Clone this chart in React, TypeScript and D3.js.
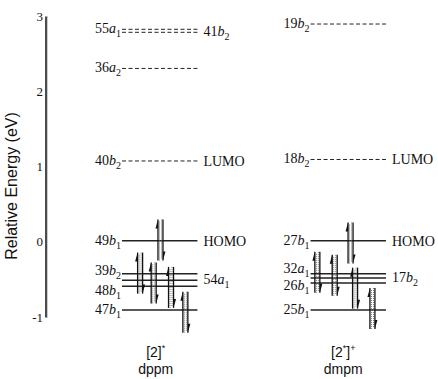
import * as d3 from "d3";

// energy axis
const yTicks = [-1, 0, 1, 2, 3];
const columns = ["dppm", "dmpm"];

// [2]* dppm levels
const dppmNames = ["55a1", "41b2", "36a2", "40b2", "49b1", "39b2", "54a1", "48b1", "47b1"];
const dppmEnergies = [2.83, 2.79, 2.31, 1.08, 0.02, -0.42, -0.505, -0.585, -0.9];
const dppmFilled = [false, false, false, false, true, true, true, true, true];
const dppmSide = ["left", "right", "left", "left", "left", "left", "right", "left", "left"];
const dppmTags = ["", "", "", "LUMO", "HOMO", "", "", "", ""];
const dppmPairPos = [0.51, 0.24, 0.42, 0.65, 0.84];
const dppmPairEnergy = [0.03, -0.41, -0.54, -0.6, -0.93];

// [2*]+ dmpm levels
const dmpmNames = ["19b2", "18b2", "27b1", "32a1", "17b2", "26b1", "25b1"];
const dmpmEnergies = [2.9, 1.1, 0.02, -0.42, -0.475, -0.54, -0.9];
const dmpmFilled = [false, false, true, true, true, true, true];
const dmpmSide = ["left", "left", "left", "left", "right", "left", "left"];
const dmpmTags = ["", "LUMO", "HOMO", "", "", "", ""];
const dmpmPairPos = [0.53, 0.09, 0.32, 0.59, 0.82];
const dmpmPairEnergy = [-0.01, -0.4, -0.44, -0.61, -0.88];

// small vertical nudges for crowded labels (px)
const labelNudge: Record<string, number> = { "39b2": -3, "48b1": 5, "32a1": -5, "26b1": 3 };

const serif = "'Liberation Serif', 'Times New Roman', serif";
const sans = "'Liberation Sans', Arial, sans-serif";

const y = d3.scaleLinear().domain([-1, 3]).range([317.5, 16.5]);
const col = d3.scaleBand().domain(columns).range([122, 386]).paddingInner(0.6).paddingOuter(0);

function OrbitalLabel({ name, x, yy, anchor }: { name: string; x: number; yy: number; anchor: string }) {
  const num = name.slice(0, 2);
  const sym = name[2];
  const sub = name[3];
  return (
    <text x={x} y={yy} textAnchor={anchor} fontFamily={serif} fontSize={14} fill="#111">
      <tspan>{num}</tspan>
      <tspan fontStyle="italic">{sym}</tspan>
      <tspan fontSize={10} dy={4}>{sub}</tspan>
    </text>
  );
}

function Column({ c, names, energies, filled, side, tags, pairPos, pairE }: any) {
  const x0 = col(c)!;
  const x1 = x0 + col.bandwidth();
  const inner = d3.scaleLinear().domain([0, 1]).range([x0, x1]);
  const half = 20.5;
  return (
    <g>
      {names.map((n: string, i: number) => {
        const yy = y(energies[i]);
        const nudge = labelNudge[n] || 0;
        return (
          <g key={n}>
            <line
              x1={x0}
              x2={x1}
              y1={yy}
              y2={yy}
              stroke="#222"
              strokeWidth={filled[i] ? 1.5 : 1}
              strokeDasharray={filled[i] ? undefined : "4,2.5"}
            />
            {side[i] === "left" ? (
              <OrbitalLabel name={n} x={x0 - 1} yy={yy + 4 + nudge} anchor="end" />
            ) : (
              <OrbitalLabel name={n} x={x1 + 6} yy={yy + 4 + nudge} anchor="start" />
            )}
            {tags[i] && (
              <text x={x1 + 6} y={yy + 5} fontFamily={serif} fontSize={14} fill="#111">
                {tags[i]}
              </text>
            )}
          </g>
        );
      })}
      {pairPos.map((p: number, i: number) => {
        const cx = inner(p);
        const cy = y(pairE[i]);
        const top = cy - half;
        const bot = cy + half;
        return (
          <g key={"pair" + i}>
            <line x1={cx - 1} x2={cx - 1} y1={top + 2} y2={bot} stroke="#777" strokeWidth={1} strokeDasharray="1,1" />
            <line x1={cx + 1} x2={cx + 1} y1={top} y2={bot - 2} stroke="#777" strokeWidth={1} strokeDasharray="1,1" />
            <line x1={cx - 2.5} x2={cx - 2.5} y1={top} y2={bot} stroke="#111" strokeWidth={1.3} />
            <polygon points={`${cx - 2.5},${top} ${cx - 5},${top + 9} ${cx - 2.5},${top + 9}`} fill="#111" />
            <line x1={cx + 2.5} x2={cx + 2.5} y1={top} y2={bot} stroke="#111" strokeWidth={1.3} />
            <polygon points={`${cx + 2.5},${bot} ${cx + 5},${bot - 9} ${cx + 2.5},${bot - 9}`} fill="#111" />
          </g>
        );
      })}
    </g>
  );
}

export default function App() {
  const dppmX = col("dppm")! + col.bandwidth() / 2;
  const dmpmX = col("dmpm")! + col.bandwidth() / 2;
  return (
    <svg width={438} height={379} style={{ position: "absolute", left: 0, top: 0, background: "#fff" }}>
      {/* axis */}
      <line x1={46} x2={46} y1={y(3)} y2={y(-1)} stroke="#111" strokeWidth={1.5} />
      <line x1={47.5} x2={47.5} y1={y(3)} y2={y(-1)} stroke="#999" strokeWidth={1} strokeDasharray="1,1" />
      {yTicks.map((t) => (
        <text key={t} x={43} y={y(t) + 4} textAnchor="end" fontFamily={serif} fontSize={13} fill="#111">
          {t}
        </text>
      ))}
      <text
        transform={`translate(17,${186}) rotate(-90)`}
        textAnchor="middle"
        fontFamily={sans}
        fontSize={16}
        fill="#111"
      >
        Relative Energy (eV)
      </text>

      <Column
        c="dppm"
        names={dppmNames}
        energies={dppmEnergies}
        filled={dppmFilled}
        side={dppmSide}
        tags={dppmTags}
        pairPos={dppmPairPos}
        pairE={dppmPairEnergy}
      />
      <Column
        c="dmpm"
        names={dmpmNames}
        energies={dmpmEnergies}
        filled={dmpmFilled}
        side={dmpmSide}
        tags={dmpmTags}
        pairPos={dmpmPairPos}
        pairE={dmpmPairEnergy}
      />

      {/* compound titles */}
      <text x={dppmX - 4} y={357} textAnchor="middle" fontFamily={sans} fontSize={14} fill="#111">
        [2]<tspan fontSize={9} dy={-6}>*</tspan>
      </text>
      <text x={dppmX - 4} y={374} textAnchor="middle" fontFamily={sans} fontSize={14} fill="#111">
        dppm
      </text>
      <text x={dmpmX - 5} y={357} textAnchor="middle" fontFamily={sans} fontSize={14} fill="#111">
        [2<tspan fontSize={9} dy={-6}>*</tspan>
        <tspan dy={6}>]</tspan>
        <tspan fontSize={9} dy={-6}>+</tspan>
      </text>
      <text x={dmpmX - 5} y={374} textAnchor="middle" fontFamily={sans} fontSize={14} fill="#111">
        dmpm
      </text>
    </svg>
  );
}
